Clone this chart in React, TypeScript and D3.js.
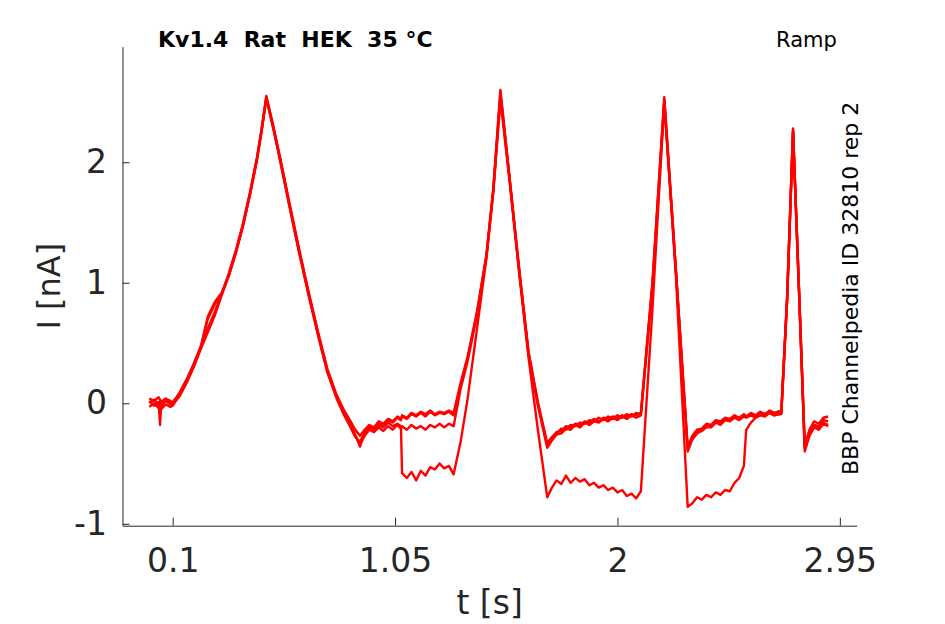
import React, { useRef, useEffect } from 'react';
import * as d3 from 'd3';

const width = 945;
const height = 624;

// shared time base of the sweeps (s)
const T = [
  // holding
  0.00, 0.02, 0.04, 0.046, 0.05, 0.07, 0.09, 0.10,
  // ramp 1 up
  0.13, 0.16, 0.19, 0.22, 0.25, 0.28, 0.31, 0.34, 0.37, 0.40, 0.43, 0.46, 0.48, 0.50,
  // ramp 1 down
  0.53, 0.56, 0.60, 0.64, 0.68, 0.72, 0.76, 0.80, 0.83, 0.86, 0.88, 0.90,
  // plateau 1
  0.92, 0.94, 0.96, 0.98, 1.00, 1.02, 1.04, 1.06, 1.075, 1.08, 1.10, 1.12, 1.14, 1.16, 1.18, 1.20, 1.22, 1.24, 1.26, 1.28, 1.30,
  // ramp 2
  1.33, 1.36, 1.40, 1.44, 1.47, 1.50, 1.54, 1.58, 1.62, 1.66, 1.70,
  // plateau 2
  1.72, 1.74, 1.76, 1.78, 1.80, 1.82, 1.84, 1.86, 1.88, 1.90, 1.92, 1.94, 1.96, 1.98, 2.00, 2.02, 2.04, 2.06, 2.08, 2.10,
  // ramp 3
  2.15, 2.20, 2.25, 2.30,
  // plateau 3
  2.32, 2.34, 2.36, 2.38, 2.40, 2.42, 2.44, 2.46, 2.48, 2.50, 2.52, 2.54, 2.55, 2.57, 2.59, 2.61, 2.63, 2.65, 2.67, 2.70,
  // ramp 4
  2.725, 2.75, 2.775, 2.80,
  // tail
  2.82, 2.84, 2.86, 2.88, 2.90,
];

// current of each sweep (nA), same length as T
const sweep1 = [
  0.04, 0.02, 0.05, 0.03, 0.01, 0.04, 0.02, 0.00,
  0.09, 0.20, 0.33, 0.47, 0.62, 0.76, 0.91, 1.08, 1.27, 1.49, 1.75, 2.04, 2.28, 2.55,
  2.30, 2.03, 1.65, 1.28, 0.93, 0.60, 0.29, 0.07, -0.05, -0.15, -0.22, -0.27,
  -0.22, -0.18, -0.20, -0.15, -0.17, -0.13, -0.15, -0.11, -0.13, -0.10, -0.12, -0.08, -0.10, -0.07, -0.09, -0.06, -0.09, -0.07, -0.08, -0.06, -0.08,
  0.17, 0.39, 0.76, 1.23, 1.79, 2.60, 1.86, 1.12, 0.43, 0.01, -0.33,
  -0.28, -0.24, -0.23, -0.19, -0.20, -0.17, -0.18, -0.15, -0.16, -0.13, -0.15, -0.12, -0.13, -0.11, -0.12, -0.10, -0.11, -0.09, -0.10, -0.08,
  1.02, 2.54, 1.10, -0.36,
  -0.27, -0.22, -0.21, -0.17, -0.18, -0.14, -0.15, -0.12, -0.13, -0.10, -0.12, -0.09, -0.11, -0.08, -0.10, -0.07, -0.09, -0.06, -0.08, -0.06,
  0.90, 2.28, 0.98, -0.36,
  -0.22, -0.15, -0.17, -0.12, -0.11,
];

const sweep2 = [
  -0.03, 0.00, -0.04, -0.02, -0.05, -0.01, -0.03, -0.02,
  0.07, 0.18, 0.31, 0.46, 0.72, 0.84, 0.92, 1.07, 1.26, 1.48, 1.74, 2.03, 2.27, 2.54,
  2.29, 2.01, 1.63, 1.26, 0.91, 0.58, 0.27, 0.05, -0.08, -0.19, -0.27, -0.34,
  -0.27, -0.22, -0.24, -0.20, -0.23, -0.19, -0.22, -0.18, -0.21, -0.19, -0.22, -0.18, -0.21, -0.19, -0.22, -0.18, -0.20, -0.17, -0.20, -0.17, -0.19,
  0.12, 0.35, 0.73, 1.21, 1.77, 2.55, 1.84, 1.10, 0.41, -0.02, -0.37,
  -0.31, -0.26, -0.25, -0.21, -0.22, -0.18, -0.20, -0.16, -0.18, -0.15, -0.16, -0.13, -0.15, -0.12, -0.14, -0.11, -0.13, -0.10, -0.12, -0.10,
  0.98, 2.50, 1.08, -0.40,
  -0.30, -0.25, -0.23, -0.20, -0.20, -0.16, -0.18, -0.14, -0.15, -0.12, -0.14, -0.11, -0.12, -0.10, -0.12, -0.09, -0.10, -0.08, -0.10, -0.09,
  0.86, 2.24, 0.95, -0.40,
  -0.27, -0.20, -0.22, -0.17, -0.19,
];

const sweep3 = [
  0.02, -0.02, 0.01, -0.18, -0.03, 0.02, -0.01, 0.01,
  0.08, 0.19, 0.32, 0.47, 0.70, 0.82, 0.91, 1.06, 1.25, 1.47, 1.73, 2.02, 2.26, 2.53,
  2.28, 2.02, 1.64, 1.27, 0.92, 0.59, 0.28, 0.06, -0.07, -0.18, -0.26, -0.36,
  -0.25, -0.20, -0.22, -0.17, -0.19, -0.14, -0.16, -0.12, -0.14, -0.11, -0.13, -0.09, -0.11, -0.08, -0.11, -0.07, -0.10, -0.08, -0.09, -0.07, -0.10,
  0.15, 0.37, 0.75, 1.22, 1.78, 2.58, 1.85, 1.11, 0.42, 0.00, -0.35,
  -0.29, -0.25, -0.21, -0.22, -0.18, -0.19, -0.16, -0.17, -0.14, -0.15, -0.12, -0.14, -0.11, -0.13, -0.10, -0.12, -0.09, -0.11, -0.08, -0.09,
  1.00, 2.52, 1.09, -0.38,
  -0.28, -0.23, -0.22, -0.18, -0.19, -0.15, -0.16, -0.13, -0.14, -0.11, -0.13, -0.10, -0.11, -0.09, -0.11, -0.08, -0.09, -0.07, -0.09, -0.07,
  0.88, 2.26, 0.96, -0.34,
  -0.24, -0.18, -0.19, -0.14, -0.15,
];

const sweep4 = [
  0.00, 0.03, -0.01, 0.01, -0.02, 0.03, 0.00, -0.01,
  0.06, 0.17, 0.30, 0.45, 0.59, 0.73, 0.90, 1.06, 1.25, 1.47, 1.73, 2.02, 2.26, 2.53,
  2.28, 2.00, 1.62, 1.25, 0.90, 0.57, 0.26, 0.04, -0.09, -0.20, -0.28, -0.32,
  -0.24, -0.19, -0.21, -0.18, -0.20, -0.16, -0.19, -0.17, -0.19, -0.58, -0.62, -0.57, -0.64, -0.56, -0.60, -0.53, -0.55, -0.50, -0.54, -0.52, -0.59,
  -0.32, 0.04, 0.62, 1.20, 1.76, 2.52, 1.83, 1.08, 0.38, -0.22, -0.78,
  -0.70, -0.64, -0.67, -0.60, -0.66, -0.62, -0.65, -0.63, -0.68, -0.66, -0.70, -0.68, -0.72, -0.70, -0.74, -0.72, -0.77, -0.75, -0.79, -0.73,
  0.80, 2.50, 1.05, -0.86,
  -0.83, -0.78, -0.80, -0.76, -0.78, -0.74, -0.76, -0.72, -0.73, -0.66, -0.62, -0.52, -0.22, -0.16, -0.12, -0.10, -0.11, -0.08, -0.10, -0.08,
  0.87, 2.27, 0.97, -0.37,
  -0.26, -0.19, -0.21, -0.16, -0.18,
];

const sweeps = [sweep1, sweep2, sweep3, sweep4];

const xTicks = [0.1, 1.05, 2, 2.95];
const xTickLabels = ['0.1', '1.05', '2', '2.95'];
const yTicks = [-1, 0, 1, 2];
const yTickLabels = ['-1', '0', '1', '2'];

const font = '"DejaVu Sans", sans-serif';
const axisColor = '#262626';

const App: React.FC = () => {
  const svgRef = useRef<SVGSVGElement>(null);

  useEffect(() => {
    if (!svgRef.current) return;
    const svg = d3.select(svgRef.current);
    svg.selectAll('*').remove();

    const plot = { left: 122.5, right: 856.7, top: 46.7, bottom: 525.7 };

    const x = d3.scaleLinear().domain([-0.1144, 3.022]).range([plot.left, plot.right]);
    const y = d3.scaleLinear().domain([-1.016, 2.959]).range([plot.bottom, plot.top]);

    // traces
    const line = d3.line<number>()
      .defined((d) => d != null && !isNaN(d))
      .x((_, i) => x(T[i]))
      .y((d) => y(d));

    svg.append('g')
      .selectAll('path')
      .data(sweeps)
      .enter()
      .append('path')
      .attr('d', (d) => line(d))
      .attr('fill', 'none')
      .attr('stroke', '#ff0000')
      .attr('stroke-width', 2.4)
      .attr('stroke-linejoin', 'round');

    // axes, ticks point inward like MATLAB
    const xAxis = d3.axisBottom(x)
      .tickValues(xTicks)
      .tickFormat((_, i) => xTickLabels[i])
      .tickSizeInner(-8)
      .tickSizeOuter(0)
      .tickPadding(23);

    const yAxis = d3.axisLeft(y)
      .tickValues(yTicks)
      .tickFormat((_, i) => yTickLabels[i])
      .tickSizeInner(-7)
      .tickSizeOuter(0)
      .tickPadding(15.5);

    const gx = svg.append('g')
      .attr('transform', `translate(0,${plot.bottom})`)
      .call(xAxis);
    const gy = svg.append('g')
      .attr('transform', `translate(${plot.left},0)`)
      .call(yAxis);

    [gx, gy].forEach((g) => {
      g.attr('font-family', font).attr('font-size', 33);
      g.select('.domain').attr('stroke', axisColor);
      g.selectAll('.tick line').attr('stroke', axisColor);
      g.selectAll('.tick text').attr('fill', axisColor);
    });

    // axis labels
    svg.append('text')
      .attr('x', (plot.left + plot.right) / 2)
      .attr('y', 614)
      .attr('text-anchor', 'middle')
      .attr('font-family', font)
      .attr('font-size', 33)
      .attr('fill', axisColor)
      .text('t [s]');

    svg.append('text')
      .attr('transform', `translate(60,${(plot.top + plot.bottom) / 2}) rotate(-90)`)
      .attr('text-anchor', 'middle')
      .attr('font-family', font)
      .attr('font-size', 32)
      .attr('fill', axisColor)
      .text('I [nA]');

    // annotations
    svg.append('text')
      .attr('x', 158)
      .attr('y', 47)
      .attr('font-family', font)
      .attr('font-size', 22)
      .attr('font-weight', 'bold')
      .style('white-space', 'pre')
      .text('Kv1.4  Rat  HEK  35 °C');

    svg.append('text')
      .attr('x', 776)
      .attr('y', 46.7)
      .attr('font-family', font)
      .attr('font-size', 21)
      .text('Ramp');

    svg.append('text')
      .attr('transform', 'translate(858,475) rotate(-90)')
      .attr('font-family', font)
      .attr('font-size', 22)
      .text('BBP Channelpedia ID 32810 rep 2');
  }, []);

  return (
    <svg
      ref={svgRef}
      width={width}
      height={height}
      style={{ position: 'absolute', left: 0, top: 0, background: '#fff' }}
    />
  );
};

export default App;
